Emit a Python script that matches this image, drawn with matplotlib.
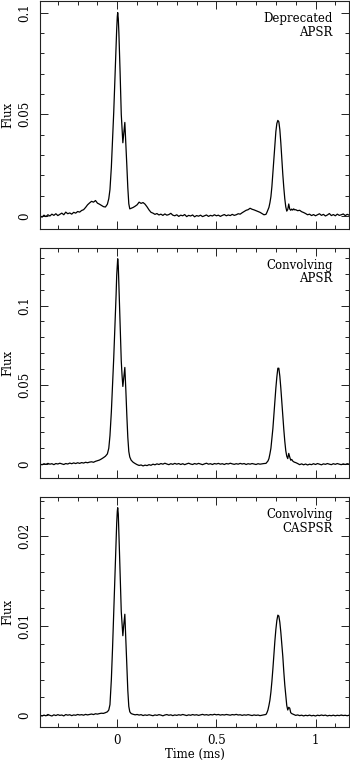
import numpy as np
import matplotlib.pyplot as plt
from matplotlib.ticker import MultipleLocator, FixedLocator, FixedFormatter

# time bins (ms): coarse over the baseline, finer across the two pulses
t_left = np.round(np.arange(-0.39, -0.065, 0.01), 3)
t_main = [-0.06, -0.05, -0.043, -0.037, -0.03, -0.024, -0.018, -0.014, -0.01,
          -0.006, -0.003, 0.0, 0.002, 0.005, 0.008, 0.011, 0.014, 0.017, 0.02,
          0.024, 0.028, 0.033, 0.038, 0.043, 0.048, 0.053, 0.058, 0.063, 0.07]
t_mid = np.round(np.arange(0.08, 0.745, 0.01), 3)
t_second = np.round(np.arange(0.75, 0.9025, 0.005), 3)
t_right = np.round(np.arange(0.91, 1.175, 0.01), 3)
time = np.concatenate([t_left, t_main, t_mid, t_second, t_right])

# Deprecated APSR
flux_dep_apsr = [
    # -0.39 .. -0.07
    0.0002, -0.0006, 0.0004, -0.0003, 0.0006, 0.0, 0.0009, 0.0003, 0.0011, 0.0002,
    0.0008, 0.0014, 0.0006, 0.0019, 0.0011, 0.0015, 0.0009, 0.0018, 0.0014, 0.0022,
    0.0019, 0.0027, 0.0031, 0.0042, 0.0055, 0.0064, 0.0072, 0.0068, 0.0076, 0.0063,
    0.0058, 0.0052, 0.0046,
    # main pulse
    0.0044, 0.0058, 0.0085, 0.013, 0.024, 0.037, 0.051, 0.062, 0.073, 0.084,
    0.092, 0.098, 0.100, 0.097, 0.090, 0.081, 0.071, 0.060, 0.050, 0.043,
    0.036, 0.041, 0.046, 0.036, 0.025, 0.014, 0.006, 0.0035, 0.0038,
    # 0.08 .. 0.74
    0.0042, 0.0048, 0.0055, 0.0068, 0.0062, 0.0066, 0.0058, 0.0045, 0.0030, 0.0018,
    0.0014, 0.0008, 0.0012, 0.0005, 0.0009, 0.0003, 0.0010, 0.0004, 0.0007, 0.0013,
    0.0004, 0.0001, 0.0006, -0.0002, 0.0004, 0.0001, 0.0007, -0.0003, 0.0003, 0.0,
    0.0005, -0.0004, 0.0002, -0.0001, 0.0004, -0.0003, 0.0001, 0.0005, -0.0002, 0.0003,
    0.0, 0.0006, 0.0001, 0.0004, -0.0002, 0.0003, 0.0007, 0.0001, 0.0005, 0.0002,
    0.0008, 0.0003, 0.0006, 0.0011, 0.0009, 0.0016, 0.0022, 0.0028, 0.0031, 0.0038,
    0.0033, 0.0030, 0.0026, 0.0022, 0.0018, 0.0012, 0.0006,
    # interpulse 0.75 .. 0.90
    0.0008, 0.0018, 0.003, 0.0042, 0.0065, 0.0095, 0.0145, 0.021, 0.028, 0.035,
    0.0415, 0.0455, 0.047, 0.0463, 0.0425, 0.036, 0.028, 0.0205, 0.014, 0.0085,
    0.0045, 0.0024, 0.0032, 0.0059, 0.0034, 0.0028, 0.0034, 0.0029, 0.0035, 0.003,
    0.0031,
    # 0.91 .. 1.17
    0.0026, 0.0028, 0.0021, 0.0017, 0.0012, 0.0006, 0.0009, 0.0002, 0.0007, 0.0001,
    0.0006, 0.0011, 0.0003, 0.0008, 0.0, 0.0005, 0.0012, 0.0002, 0.0007, 0.0001,
    0.0009, 0.0003, 0.0006, 0.0010, 0.0002, 0.0008, 0.0004,
]

# Convolving APSR
flux_conv_apsr = [
    0.0002, -0.0004, 0.0003, -0.0001, 0.0005, 0.0, 0.0003, -0.0003, 0.0004, 0.0001,
    0.0006, 0.0002, -0.0002, 0.0004, 0.0001, 0.0007, 0.0003, 0.0008, 0.0004, 0.0009,
    0.0005, 0.0010, 0.0007, 0.0012, 0.0009, 0.0013, 0.0015, 0.0012, 0.0018, 0.0022,
    0.0026, 0.0033, 0.0041,
    0.005, 0.0065, 0.010, 0.018, 0.033, 0.050, 0.067, 0.080, 0.094, 0.107,
    0.119, 0.126, 0.1295, 0.125, 0.114, 0.101, 0.089, 0.076, 0.065, 0.056,
    0.049, 0.055, 0.061, 0.047, 0.031, 0.017, 0.008, 0.0045, 0.0025,
    0.0012, 0.0004, -0.0003, -0.0008, -0.0005, -0.0011, -0.0006, -0.0009, -0.0003, -0.0007,
    0.0, -0.0004, 0.0002, -0.0002, 0.0004, 0.0, 0.0006, 0.0001, -0.0003, 0.0003,
    -0.0001, 0.0005, 0.0, 0.0004, -0.0002, 0.0003, -0.0003, 0.0002, 0.0006, 0.0001,
    -0.0002, 0.0004, 0.0, 0.0005, 0.0001, -0.0003, 0.0002, 0.0006, 0.0, 0.0003,
    -0.0002, 0.0004, 0.0001, 0.0005, 0.0, 0.0003, -0.0002, 0.0004, 0.0001, 0.0006,
    0.0002, -0.0001, 0.0003, 0.0, 0.0005, 0.0001, 0.0004, -0.0002, 0.0003, 0.0,
    0.0004, 0.0001, -0.0002, 0.0003, 0.0, 0.0002, 0.0004,
    0.0005, 0.0012, 0.002, 0.0035, 0.0065, 0.010, 0.016, 0.0225, 0.031, 0.0395,
    0.048, 0.055, 0.0605, 0.0605, 0.0555, 0.048, 0.039, 0.030, 0.022, 0.0145,
    0.0085, 0.005, 0.0035, 0.0068, 0.0045, 0.0025, 0.003, 0.002, 0.0015, 0.0012,
    0.001,
    0.0004, -0.0003, 0.0002, -0.0004, 0.0001, -0.0005, 0.0, -0.0003, 0.0003, -0.0002,
    0.0004, 0.0, -0.0004, 0.0002, -0.0001, 0.0004, 0.0, -0.0003, 0.0003, -0.0001,
    0.0004, 0.0, -0.0003, 0.0002, -0.0002, 0.0003, 0.0,
]

# Convolving CASPSR
flux_conv_caspsr = [
    0.00005, -0.00008, 0.00003, -0.00005, 0.0001, 0.0, -0.00007, 0.00006, -0.00002, 0.00008,
    0.0, 0.00004, -0.00006, 0.00009, 0.00002, 0.00007, -0.00003, 0.00005, 0.00001, 0.0001,
    0.00004, 0.00008, 0.00002, 0.00011, 0.00005, 0.0001, 0.00015, 0.00009, 0.00018, 0.00014,
    0.0002, 0.00024, 0.00022,
    0.0003, 0.0004, 0.0006, 0.0012, 0.0040, 0.0075, 0.0116, 0.0143, 0.0170, 0.0196,
    0.0215, 0.0228, 0.0232, 0.0225, 0.0205, 0.0182, 0.0160, 0.0136, 0.0116, 0.0102,
    0.0089, 0.0102, 0.0113, 0.0085, 0.0055, 0.0028, 0.0010, 0.0004, 0.0002,
    0.00012, 0.00006, 0.0001, 0.00003, 0.00008, -0.00002, 0.00005, 0.0, 0.00007, 0.00002,
    -0.00004, 0.00005, 0.0, 0.00008, 0.00003, -0.00005, 0.00004, 0.00009, 0.00001, 0.00006,
    -0.00003, 0.00005, 0.0, 0.00007, 0.00002, 0.0001, 0.00004, -0.00002, 0.00006, 0.00001,
    0.00009, 0.00003, 0.00007, 0.0, 0.00005, 0.00011, 0.00004, 0.00008, 0.00002, 0.00009,
    0.00005, 0.00012, 0.00006, 0.0001, 0.00003, 0.00008, 0.00004, 0.0001, 0.00006, 0.00002,
    0.00009, 0.00005, 0.00011, 0.00004, 0.00007, 0.0, 0.00006, 0.00002, 0.00008, 0.00003,
    -0.00002, 0.00005, 0.0, 0.00004, -0.00003, 0.00002, 0.00006,
    0.0001, 0.0003, 0.0006, 0.0011, 0.0017, 0.0026, 0.0038, 0.0052, 0.0068, 0.0083,
    0.0096, 0.0106, 0.0112, 0.0111, 0.0104, 0.0093, 0.0080, 0.0066, 0.0049, 0.0034,
    0.0022, 0.0011, 0.0006, 0.0009, 0.0008, 0.0003, 0.0002, 0.00015, 0.0001, 0.00005,
    0.0,
    0.00005, -0.00003, 0.00002, -0.00006, 0.00001, -0.00004, 0.00003, -0.00005, 0.0, -0.00007,
    0.00002, -0.00003, 0.00004, -0.00002, 0.00003, -0.00006, 0.0, -0.00004, 0.00002, -0.00005,
    0.00001, -0.00003, 0.00004, -0.00002, 0.00001, -0.00004, 0.00002,
]

panel_labels = [("Deprecated", "APSR"), ("Convolving", "APSR"), ("Convolving", "CASPSR")]
panel_flux = [flux_dep_apsr, flux_conv_apsr, flux_conv_caspsr]
y_limits = [(-0.0064, 0.1057), (-0.0084, 0.1363), (-0.0013, 0.0244)]
y_major = [[0, 0.05, 0.1], [0, 0.05, 0.1], [0, 0.01, 0.02]]
y_major_labels = [["0", "0.05", "0.1"], ["0", "0.05", "0.1"], ["0", "0.01", "0.02"]]
y_minor = [0.01, 0.01, 0.002]
x_major = [0, 0.5, 1]
x_major_labels = ["0", "0.5", "1"]

for f in panel_flux:
    assert len(f) == len(time), (len(f), len(time))

plt.rcParams['font.family'] = ['DejaVu Serif']

W, H = 350, 761
fig = plt.figure(figsize=(W / 100, H / 100), dpi=100)
# axes boxes in pixels: (top, bottom)
boxes = [(1, 229), (248, 477.5), (497, 727)]
left_px, right_px = 40, 349

for i, (top, bot) in enumerate(boxes):
    ax = fig.add_axes([left_px / W, 1 - bot / H, (right_px - left_px) / W, (bot - top) / H])
    ax.plot(time, panel_flux[i], color='black', lw=0.9)
    ax.set_xlim(-0.39, 1.169)
    ax.set_ylim(*y_limits[i])

    ax.xaxis.set_major_locator(FixedLocator(x_major))
    ax.xaxis.set_minor_locator(MultipleLocator(0.1))
    ax.yaxis.set_major_locator(FixedLocator(y_major[i]))
    ax.yaxis.set_major_formatter(FixedFormatter(y_major_labels[i]))
    ax.yaxis.set_minor_locator(MultipleLocator(y_minor[i]))
    ax.tick_params(which='both', direction='in', top=True, right=True,
                   width=0.7, color='#222222')
    ax.tick_params(which='major', length=5.5)
    ax.tick_params(which='minor', length=2.8)
    ax.tick_params(axis='y', labelsize=8.5, pad=6, labelrotation=90)
    for lab in ax.get_yticklabels():
        lab.set_va('center')
    if i == 2:
        ax.xaxis.set_major_formatter(FixedFormatter(x_major_labels))
        ax.tick_params(axis='x', labelsize=8.5, pad=5)
        ax.set_xlabel("Time (ms)", fontsize=8.5, labelpad=1)
    else:
        ax.tick_params(axis='x', labelbottom=False)
    for s in ax.spines.values():
        s.set_linewidth(0.8)
        s.set_color('#222222')

    ax.set_ylabel("Flux", fontsize=8.5)
    ax.yaxis.set_label_coords(-0.084, 0.5)

    hpx = bot - top
    ax.text(0.948, 1 - 21 / hpx, panel_labels[i][0], transform=ax.transAxes,
            ha='right', va='baseline', fontsize=8.5)
    ax.text(0.948, 1 - 34.5 / hpx, panel_labels[i][1], transform=ax.transAxes,
            ha='right', va='baseline', fontsize=8.5)

fig.savefig("out.png", dpi=100)
